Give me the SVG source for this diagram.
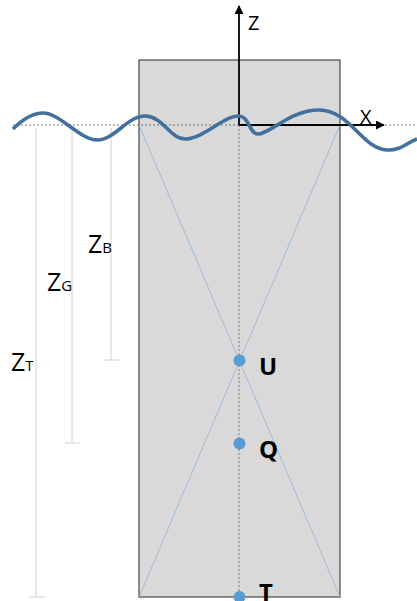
<svg xmlns="http://www.w3.org/2000/svg" width="417" height="601" viewBox="0 0 417 601">
<defs>
<style>
.dim{stroke:#d0d0d0;stroke-width:1;fill:none}
.lbl{font-family:"Open Sans","Liberation Sans",sans-serif;fill:#000}
.pt{fill:#5B9BD5}
.bold{font-family:"Open Sans","Liberation Sans",sans-serif;font-weight:bold;font-size:24px;fill:#000}
</style>
<marker id="ah" viewBox="0 0 10 10" refX="9" refY="5" markerWidth="5" markerHeight="5" orient="auto"><path d="M0,0 L10,5 L0,10 z" fill="#000"/></marker>
</defs>
<rect width="417" height="601" fill="#fff"/>
<g id="body">
<rect x="139" y="60" width="201" height="537" fill="#d9d9d9" stroke="#555" stroke-width="1.3"/>
</g>
<g id="connectors">
<line x1="139" y1="125" x2="340" y2="597" stroke="#8fb4dc" stroke-width="0.8"/>
<line x1="340" y1="125" x2="139" y2="597" stroke="#8fb4dc" stroke-width="0.8"/>
<line x1="239" y1="125" x2="239" y2="597" stroke="#777" stroke-width="1" stroke-dasharray="2,2"/>
<line x1="13" y1="125" x2="417" y2="125" stroke="#555" stroke-width="0.8" stroke-dasharray="2,2"/>
<line class="dim" x1="36" y1="128" x2="36" y2="597"/><line class="dim" x1="29" y1="597" x2="45" y2="597"/>
<line class="dim" x1="72" y1="128" x2="72" y2="443"/><line class="dim" x1="65" y1="443" x2="80" y2="443"/>
<line class="dim" x1="111" y1="128" x2="111" y2="360"/><line class="dim" x1="104" y1="360" x2="119" y2="360"/>
<line x1="239" y1="125" x2="239" y2="6" stroke="#000" stroke-width="1.8" marker-end="url(#ah)"/>
<line x1="239" y1="125" x2="384" y2="125" stroke="#000" stroke-width="1.8" marker-end="url(#ah)"/>
</g>
<g id="wave">
<path d="M13,129 C22,120 32,113 43,113 C60,113 80,140 97,140 C115,140 127,116 145,116 C163,116 170,139 185,139 C203,139 225,115 239,116 C250,117 249,134 258,134 C270,134 290,110 319,110 C350,110 362,149 387,150 C400,151 408,142 417,139" fill="none" stroke="#41719C" stroke-width="3.6"/>
</g>
<g id="axis-labels">
<text class="lbl" x="248" y="30" font-size="20">Z</text>
<text class="lbl" x="360" y="124" font-size="20">X</text>
</g>
<g id="ZB"><text class="lbl" x="88" y="253" font-size="25">Z<tspan font-size="15">B</tspan></text></g>
<g id="ZG"><text class="lbl" x="47" y="291" font-size="25">Z<tspan font-size="15">G</tspan></text></g>
<g id="ZT"><text class="lbl" x="11" y="371" font-size="25">Z<tspan font-size="15">T</tspan></text></g>
<g id="U"><circle class="pt" cx="239.5" cy="360.5" r="6"/><text class="bold" x="259" y="375">U</text></g>
<g id="Q"><circle class="pt" cx="239.5" cy="443.5" r="6"/><text class="bold" x="259" y="458">Q</text></g>
<g id="T"><circle class="pt" cx="239.5" cy="597" r="6"/><text class="bold" x="259" y="601">T</text></g>
</svg>
